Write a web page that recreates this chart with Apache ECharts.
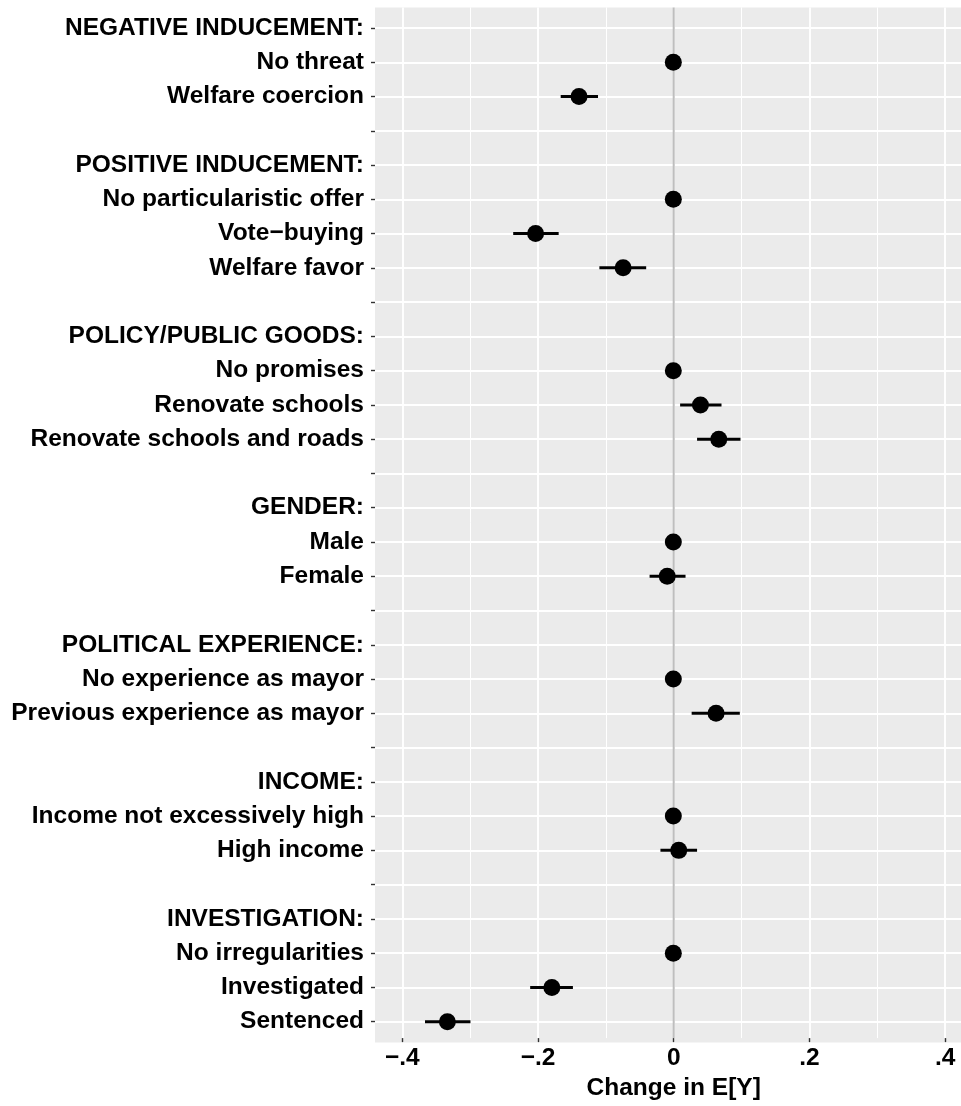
<!DOCTYPE html>
<html>
<head>
<meta charset="utf-8">
<script src="https://cdn.jsdelivr.net/npm/echarts@6/dist/echarts.min.js"></script>
<style>
html,body{margin:0;padding:0;background:#fff;}
#chart{width:961px;height:1106px;}
</style>
</head>
<body>
<div id="chart"></div>
<script>
// ---- Data ----
const rowLabels = [
  "NEGATIVE INDUCEMENT:", "No threat", "Welfare coercion", "",
  "POSITIVE INDUCEMENT:", "No particularistic offer", "Vote\u2212buying", "Welfare favor", "",
  "POLICY/PUBLIC GOODS:", "No promises", "Renovate schools", "Renovate schools and roads", "",
  "GENDER:", "Male", "Female", "",
  "POLITICAL EXPERIENCE:", "No experience as mayor", "Previous experience as mayor", "",
  "INCOME:", "Income not excessively high", "High income", "",
  "INVESTIGATION:", "No irregularities", "Investigated", "Sentenced"
];
const estimate = [
  null, 0, -0.139, null,
  null, 0, -0.203, -0.074, null,
  null, 0, 0.040, 0.067, null,
  null, 0, -0.009, null,
  null, 0, 0.063, null,
  null, 0, 0.008, null,
  null, 0, -0.179, -0.333
];
const ciLow = [
  null, null, -0.166, null,
  null, null, -0.236, -0.109, null,
  null, null, 0.010, 0.035, null,
  null, null, -0.035, null,
  null, null, 0.027, null,
  null, null, -0.019, null,
  null, null, -0.211, -0.366
];
const ciHigh = [
  null, null, -0.111, null,
  null, null, -0.169, -0.040, null,
  null, null, 0.071, 0.099, null,
  null, null, 0.018, null,
  null, null, 0.098, null,
  null, null, 0.035, null,
  null, null, -0.148, -0.299
];
const xTickValues = [-0.4, -0.2, 0, 0.2, 0.4];
const xTickLabels = ["\u2212.4", "\u2212.2", "0", ".2", ".4"];
const zeroRef = 0;
const xTitle = "Change in E[Y]";

// ---- Build ----
const pointData = [];
const barData = [];
estimate.forEach((v, i) => { if (v !== null) pointData.push([v, i]); });
ciLow.forEach((v, i) => { if (v !== null) barData.push([v, ciHigh[i], i]); });

const FONT = "'Liberation Sans', Arial, Helvetica, sans-serif";
const FS = 24.5;
const chart = echarts.init(document.getElementById('chart'), null, {renderer: 'canvas'});

const option = {
  animation: false,
  backgroundColor: '#ffffff',
  grid: [
    // panel background
    {left: 375, right: 0, top: 7.4, bottom: 63.6, show: true, backgroundColor: '#EBEBEB', borderWidth: 0},
    // rows (y axis + data)
    {left: 375, right: 0, top: 28, bottom: 84.3, show: false},
    // x axis (ticks, labels, vertical grid lines)
    {left: 402.3, right: 15.9, top: 7.4, bottom: 63.6, show: false}
  ],
  xAxis: [
    {gridIndex: 0, type: 'value', show: false, min: 0, max: 1, axisLine: {onZero: false}},
    {gridIndex: 1, type: 'value', show: false, min: -0.4397, max: 0.4240, axisLine: {onZero: false}},
    {
      gridIndex: 2, type: 'value', min: -0.4, max: 0.4, interval: 0.2, position: 'bottom',
      axisLine: {show: false, onZero: false},
      axisTick: {show: true, length: 4, lineStyle: {color: '#333333', width: 1.4}},
      axisLabel: {
        show: true, margin: 8, color: '#000', fontFamily: FONT, fontWeight: 'bold', fontSize: FS,
        formatter: function (v) {
          let best = 0;
          xTickValues.forEach((t, k) => { if (Math.abs(t - v) < Math.abs(xTickValues[best] - v)) best = k; });
          return xTickLabels[best];
        }
      },
      splitLine: {show: true, lineStyle: {color: '#FFFFFF', width: 1.9}},
      minorTick: {show: false, splitNumber: 2},
      minorSplitLine: {show: true, lineStyle: {color: '#FFFFFF', width: 1.0}},
      name: xTitle, nameLocation: 'middle', nameGap: 30,
      nameTextStyle: {color: '#000', fontFamily: FONT, fontWeight: 'bold', fontSize: FS, verticalAlign: 'top'}
    }
  ],
  yAxis: [
    {gridIndex: 0, type: 'value', show: false, min: 0, max: 1, axisLine: {onZero: false}},
    {
      gridIndex: 1, type: 'category', data: rowLabels, inverse: true, boundaryGap: false, position: 'left',
      axisLine: {show: false, onZero: false},
      axisTick: {show: true, length: 4, interval: 0, lineStyle: {color: '#333333', width: 1.4}},
      axisLabel: {show: true, interval: 0, margin: 11, color: '#000', fontFamily: FONT, fontWeight: 'bold', fontSize: FS},
      splitLine: {show: true, interval: 0, lineStyle: {color: '#FFFFFF', width: 1.9}}
    },
    {gridIndex: 2, type: 'value', show: false, min: 0, max: 1, axisLine: {onZero: false}}
  ],
  series: [
    {
      type: 'line', xAxisIndex: 2, yAxisIndex: 2, z: 2,
      data: [[zeroRef, 0], [zeroRef, 1]],
      symbol: 'none', silent: true,
      lineStyle: {color: '#BEBEBE', width: 2}
    },
    {
      type: 'custom', xAxisIndex: 1, yAxisIndex: 1, z: 3,
      data: barData,
      encode: {x: [0, 1], y: 2},
      renderItem: function (params, api) {
        const a = api.coord([api.value(0), api.value(2)]);
        const b = api.coord([api.value(1), api.value(2)]);
        return {
          type: 'line',
          shape: {x1: a[0], y1: a[1], x2: b[0], y2: b[1]},
          style: {stroke: '#000000', lineWidth: 3}
        };
      }
    },
    {
      type: 'scatter', xAxisIndex: 1, yAxisIndex: 1, z: 4,
      data: pointData,
      symbol: 'circle', symbolSize: 17,
      itemStyle: {color: '#000000', opacity: 1}
    }
  ]
};
chart.setOption(option);
</script>
</body>
</html>
